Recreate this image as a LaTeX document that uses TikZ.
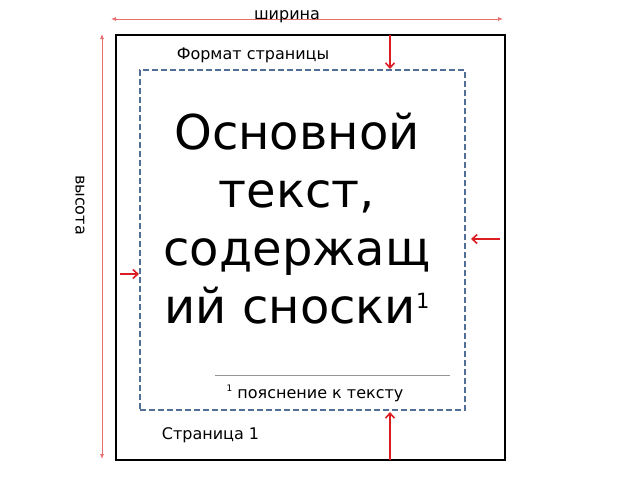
\documentclass[tikz,border=0pt]{standalone}
\usepackage{fontspec}
\setmainfont{DejaVu Sans}
\usetikzlibrary{arrows.meta}
\definecolor{dimred}{RGB}{235,110,110}
\definecolor{margred}{RGB}{220,30,35}
\definecolor{dashblue}{RGB}{80,110,150}
\definecolor{footgray}{RGB}{150,150,150}
\tikzset{
  lbl/.style={inner sep=0pt, font=\fontsize{16}{19}\selectfont},
  dimarrow/.style={draw=dimred, line width=0.8pt, {Latex[length=5pt,width=4pt]}-{Latex[length=5pt,width=4pt]}},
  margarrow/.style={draw=margred, line width=1.6pt, -{Straight Barb[length=5pt,width=9pt]}},
  pagebox/.style={draw=black, line width=1.4pt},
  textbox/.style={draw=dashblue, line width=1.6pt, dash pattern=on 6pt off 3pt}
}
\begin{document}
\begin{tikzpicture}[x=1pt,y=-1pt]
\useasboundingbox (0,0) rectangle (640,480);
% page and text area
\node[pagebox, minimum width=389pt, minimum height=425pt, inner sep=0pt] (page) at (310.5,247.5) {};
\node[textbox, minimum width=325pt, minimum height=340pt, inner sep=0pt] (area) at (302.5,240) {};
% dimension arrows
\coordinate (wl) at (111,19);
\coordinate (wr) at (503,19);
\draw[dimarrow] (wl) -- (wr);
\node[lbl, anchor=base] (wlab) at (287,19.5) {ширина};
\coordinate (ht) at (102,34);
\coordinate (hb) at (102,459);
\draw[dimarrow] (ht) -- (hb);
\node[lbl, rotate=-90] (hlab) at (80,205) {высота};
% margin arrows
\coordinate (ts) at (390,35);
\draw[margarrow] (ts) -- (390,69);
\coordinate (rs) at (500,239);
\draw[margarrow] (rs) -- (471,239);
\coordinate (ls) at (120,274);
\draw[margarrow] (ls) -- (139,274);
\coordinate (bs) at (390,460);
\draw[margarrow] (bs) -- (390,412);
% labels
\node[lbl, anchor=base] (fmt) at (253,59) {Формат страницы};
\node[inner sep=0pt, align=center, font=\fontsize{48}{58}\selectfont] (main) at (297,219)
  {Основной\\текст,\\содержащ\\ий сноски\raisebox{15pt}{\fontsize{21}{21}\selectfont 1}};
\coordinate (fl) at (215,375);
\coordinate (fr) at (450,375);
\draw[footgray, line width=1pt] (fl) -- (fr);
\node[lbl, anchor=base] (fn) at (315,398.5) {\raisebox{0.45em}{\fontsize{9}{9}\selectfont 1} пояснение к тексту};
\node[lbl, anchor=base] (pg) at (210.5,439) {Страница 1};
\end{tikzpicture}
\end{document}
